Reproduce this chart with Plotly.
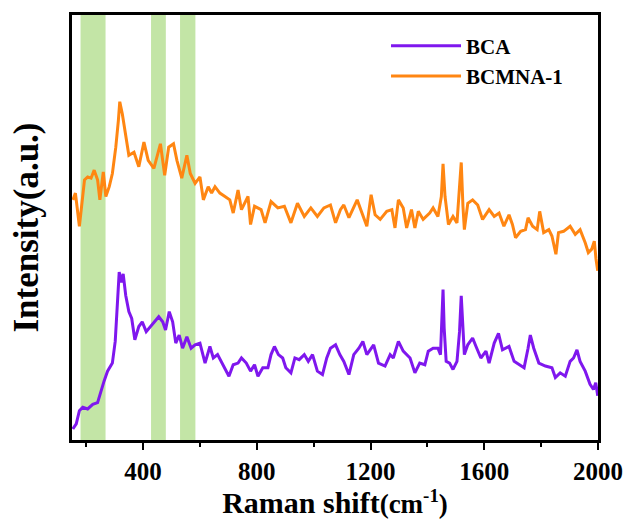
import plotly.graph_objects as go

# Raman spectra (intensity in arbitrary units, curves offset vertically)
bca_shift = [153, 165, 176, 188, 205, 223, 240, 252, 263, 275, 292, 302, 310, 316, 324, 330,
             339, 350, 360, 371, 385, 397, 411, 426, 444, 455, 469, 479, 492, 504, 515, 527,
             539, 554, 569, 583, 600, 618, 635, 647, 662, 682, 702, 717, 734, 746, 763, 778,
             792, 804, 821, 839, 850, 862, 876, 891, 902, 920, 934, 949, 967, 981, 996, 1013,
             1031, 1046, 1059, 1077, 1092, 1106, 1124, 1141, 1159, 1173, 1187, 1211, 1228,
             1251, 1269, 1280, 1298, 1315, 1339, 1356, 1373, 1391, 1403, 1420, 1437, 1446,
             1451, 1455, 1459, 1466, 1478, 1490, 1504, 1513, 1519, 1525, 1530, 1542, 1559,
             1571, 1588, 1606, 1617, 1635, 1650, 1664, 1687, 1705, 1722, 1740, 1754, 1762,
             1774, 1792, 1815, 1838, 1850, 1867, 1885, 1902, 1914, 1926, 1937, 1955, 1972,
             1984, 1992, 1999]
bca_intensity = [2.6, 3.8, 6.9, 7.7, 7.3, 8.4, 8.8, 11.6, 13.9, 16.2, 18.1, 23.2, 33.3, 39.5,
                 37.1, 39.1, 34.0, 30.2, 28.6, 23.6, 26.7, 27.8, 25.5, 26.7, 28.2, 29.0, 27.8,
                 25.9, 30.2, 27.8, 22.8, 24.7, 21.6, 24.3, 21.6, 22.4, 22.8, 18.1, 22.0, 19.3,
                 20.1, 17.7, 15.0, 17.7, 18.1, 19.3, 18.1, 16.2, 17.7, 15.0, 17.0, 17.0, 20.1,
                 22.0, 20.1, 19.3, 17.0, 15.8, 19.3, 18.9, 20.1, 18.5, 20.1, 16.2, 15.4, 19.3,
                 21.6, 22.4, 20.1, 18.5, 15.4, 20.1, 21.6, 23.2, 20.1, 22.4, 18.1, 17.4, 20.1,
                 19.3, 23.2, 20.9, 19.3, 15.8, 18.1, 17.7, 20.9, 21.6, 21.6, 20.1, 29.4, 35.4,
                 26.3, 18.5, 18.1, 16.6, 18.5, 25.5, 33.9, 24.7, 20.1, 22.4, 24.0, 22.0, 19.3,
                 20.9, 18.1, 22.8, 25.1, 21.2, 22.0, 18.5, 17.7, 17.0, 21.6, 24.7, 21.6, 18.1,
                 17.4, 17.0, 14.7, 15.8, 15.0, 18.5, 19.3, 21.2, 18.5, 16.2, 13.1, 11.9, 13.5,
                 10.4]

bcmna_shift = [153, 162, 176, 194, 205, 217, 228, 240, 248, 260, 269, 281, 292, 304, 313, 318,
               327, 339, 350, 368, 385, 403, 418, 438, 461, 476, 490, 507, 519, 536, 554, 566,
               583, 600, 612, 629, 641, 653, 670, 688, 705, 717, 734, 746, 769, 778, 792, 815,
               829, 850, 874, 897, 920, 943, 967, 990, 1013, 1036, 1059, 1077, 1094, 1106,
               1124, 1153, 1170, 1187, 1202, 1216, 1234, 1257, 1275, 1286, 1298, 1315, 1327,
               1344, 1356, 1368, 1385, 1408, 1420, 1437, 1449, 1455, 1462, 1474, 1490, 1504,
               1513, 1519, 1525, 1530, 1542, 1559, 1577, 1594, 1617, 1635, 1652, 1669, 1687,
               1699, 1710, 1728, 1745, 1754, 1770, 1786, 1795, 1809, 1827, 1838, 1852, 1861,
               1879, 1902, 1920, 1937, 1955, 1966, 1978, 1987, 1993, 1999]
bcmna_intensity = [56.5, 58.1, 50.3, 61.2, 61.9, 61.6, 63.5, 61.2, 56.5, 63.1, 57.3, 59.6,
                   62.7, 68.9, 75.1, 79.6, 76.7, 71.2, 67.0, 67.7, 64.3, 70.1, 65.8, 63.9,
                   69.7, 62.3, 68.9, 69.7, 65.8, 61.6, 67.0, 62.7, 60.4, 61.9, 56.5, 59.6,
                   58.1, 59.6, 58.1, 57.3, 56.5, 53.4, 58.8, 54.2, 57.3, 50.7, 55.0, 54.2,
                   51.1, 56.1, 54.6, 55.0, 51.1, 55.7, 52.6, 54.6, 52.6, 54.6, 55.3, 51.1,
                   54.2, 55.3, 52.3, 56.5, 53.4, 50.3, 57.7, 53.0, 51.9, 53.8, 54.2, 49.9,
                   56.5, 54.6, 49.9, 54.2, 49.9, 53.8, 51.9, 53.4, 54.6, 52.6, 57.3, 65.0,
                   57.3, 50.7, 52.6, 51.1, 59.6, 65.3, 55.0, 49.5, 55.7, 56.5, 55.3, 51.9,
                   54.2, 52.6, 53.4, 50.3, 53.0, 50.7, 47.6, 49.1, 49.5, 52.3, 50.3, 49.5,
                   53.8, 48.8, 49.5, 48.0, 43.7, 48.8, 49.1, 50.3, 48.4, 49.5, 46.4, 44.1,
                   44.9, 46.8, 42.6, 39.8]

# Shaded Raman bands (cm-1)
highlight_bands = [(180, 268), (428, 480), (530, 584)]

x_ticks = [400, 800, 1200, 1600, 2000]

PURPLE = "#7F17EE"
ORANGE = "#FF8612"
GREEN = "#C3E5A6"
SERIF = "Times New Roman, Liberation Serif, serif"

fig = go.Figure()

fig.add_trace(go.Scatter(x=bca_shift, y=bca_intensity, mode="lines", name="BCA",
                         line=dict(color=PURPLE, width=3)))
fig.add_trace(go.Scatter(x=bcmna_shift, y=bcmna_intensity, mode="lines", name="BCMNA-1",
                         line=dict(color=ORANGE, width=3)))

for lo, hi in highlight_bands:
    fig.add_shape(type="rect", xref="x", yref="paper", x0=lo, x1=hi, y0=0, y1=1,
                  fillcolor=GREEN, line_width=0, layer="below")

fig.update_layout(
    width=635, height=522,
    margin=dict(l=72, r=29, t=13, b=77),
    plot_bgcolor="white", paper_bgcolor="white",
    font=dict(family=SERIF, color="black"),
    showlegend=True,
    legend=dict(x=0.597, y=0.975, xanchor="left", yanchor="top",
                bgcolor="rgba(0,0,0,0)", itemwidth=70, tracegroupgap=0,
                font=dict(family=SERIF, size=21, weight="bold")),
)

fig.update_xaxes(
    range=[150, 2000], tickvals=x_ticks, ticktext=[str(v) for v in x_ticks],
    showline=True, linecolor="black", linewidth=3, mirror=True,
    ticks="outside", ticklen=7, tickwidth=2, tickcolor="black",
    minor=dict(tickvals=[200, 600, 1000, 1400, 1800], ticks="outside", ticklen=4,
               tickwidth=2, tickcolor="black"),
    showgrid=False, zeroline=False,
    tickfont=dict(family=SERIF, size=25, weight="bold"),
    title=dict(text="Raman shift<span style='font-size:27px'>(cm<sup>-1</sup>)</span>",
               font=dict(family=SERIF, size=30, weight="bold"), standoff=4),
)
fig.update_yaxes(
    range=[0, 100], showticklabels=False, ticks="",
    showline=True, linecolor="black", linewidth=3, mirror=True,
    showgrid=False, zeroline=False,
    title=dict(text="Intensity(a.u.)", font=dict(family=SERIF, size=35, weight="bold"),
               standoff=20),
)

fig.write_html("out.html")
